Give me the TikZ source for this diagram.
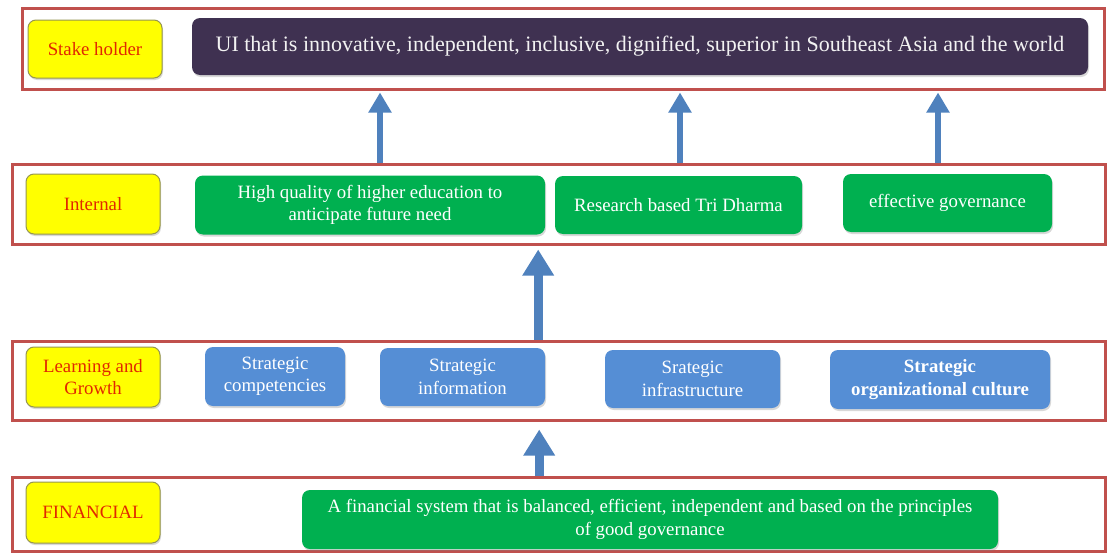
\documentclass[tikz,border=0pt]{standalone}
\usepackage{fontspec}
\setmainfont{Liberation Serif}
\usetikzlibrary{arrows.meta,shadows}
\definecolor{rowred}{RGB}{192,80,77}
\definecolor{tagyellow}{RGB}{255,255,0}
\definecolor{tagrim}{RGB}{150,150,80}
\definecolor{tagtext}{RGB}{225,40,0}
\definecolor{goalpurple}{RGB}{63,49,81}
\definecolor{boxgreen}{RGB}{0,176,80}
\definecolor{boxblue}{RGB}{85,142,213}
\definecolor{arrowblue}{RGB}{79,129,189}
\begin{document}
\begin{tikzpicture}[x=1pt,y=-1pt,
    every node/.style={inner sep=0pt,align=center,font=\fontsize{18.8}{22.5}\selectfont},
    rowbox/.style={draw=rowred,line width=3pt,fill=white,drop shadow={shadow xshift=1pt,shadow yshift=-2pt,opacity=0.2}},
    tagbox/.style={draw=tagrim,line width=1pt,fill=tagyellow,rounded corners=8pt,text=tagtext,minimum width=134pt,drop shadow={shadow xshift=1pt,shadow yshift=-2pt,opacity=0.3}},
    goalbox/.style={fill=goalpurple,rounded corners=8pt,text=white!95!black,drop shadow={shadow xshift=1pt,shadow yshift=-2pt,opacity=0.3}},
    greenbox/.style={fill=boxgreen,rounded corners=8pt,text=white,drop shadow={shadow xshift=1pt,shadow yshift=-2pt,opacity=0.3}},
    bluebox/.style={fill=boxblue,rounded corners=8pt,text=white,drop shadow={shadow xshift=1pt,shadow yshift=-2pt,opacity=0.3}},
    uparrow/.style={draw=arrowblue,line width=6pt,-{Triangle[length=20pt,width=22pt]}},
    bigarrow/.style={draw=arrowblue,line width=9pt,-{Triangle[length=26pt,width=30pt]}}]
  \useasboundingbox (0,0) rectangle (1109,554);
  \node[rowbox,minimum width=1082pt,minimum height=81pt] (rstake) at (563,48.5) {};
  \node[rowbox,minimum width=1093pt,minimum height=80pt] (rint) at (558.5,204) {};
  \node[rowbox,minimum width=1093pt,minimum height=79pt] (rlearn) at (558.5,380.5) {};
  \node[rowbox,minimum width=1093pt,minimum height=74pt] (rfin) at (558.5,514) {};
  \node[tagbox,minimum height=58pt] (pstake) at (95,49) {Stake holder};
  \node[tagbox,minimum height=60pt] (pint) at (93,204) {Internal};
  \node[tagbox,minimum height=60pt] (plearn) at (93,377) {Learning and\\Growth};
  \node[tagbox,minimum height=61pt] (pfin) at (93,512.5) {FINANCIAL};
  \node[goalbox,minimum width=896pt,minimum height=57pt,font=\fontsize{22}{26}\selectfont] (goal) at (640,46.5)
    {UI that is innovative, independent, inclusive, dignified, superior in Southeast Asia and the world};
  \node[greenbox,minimum width=350pt,minimum height=59pt] (hq) at (370,205) {High quality of higher education to\\anticipate future need};
  \node[greenbox,minimum width=247pt,minimum height=58pt] (tri) at (678.5,205) {Research based Tri Dharma};
  \node[greenbox,minimum width=209pt,minimum height=58pt] (gov) at (947.5,203) {effective governance};
  \node[bluebox,minimum width=140pt,minimum height=59pt] (comp) at (275,376.5) {Strategic\\competencies};
  \node[bluebox,minimum width=165pt,minimum height=58pt] (info) at (462.5,377) {Strategic\\information};
  \node[bluebox,minimum width=175pt,minimum height=58pt] (infra) at (692.5,379) {Srategic\\infrastructure};
  \node[bluebox,minimum width=220pt,minimum height=59pt,font=\fontsize{18.8}{22.5}\selectfont\bfseries] (cult) at (940,379.5) {Strategic\\organizational culture};
  \node[greenbox,minimum width=696pt,minimum height=59pt] (fsys) at (650,519.5)
    {A financial system that is balanced, efficient, independent and based on the principles\\of good governance};
  \draw[uparrow,shorten >=2pt] ([xshift=10pt]rint.north -| hq.north) -- ([xshift=10pt]rstake.south -| hq.north);
  \draw[uparrow,shorten >=2pt] ([xshift=1.5pt]rint.north -| tri.north) -- ([xshift=1.5pt]rstake.south -| tri.north);
  \draw[uparrow,shorten >=2pt] ([xshift=-9.5pt]rint.north -| gov.north) -- ([xshift=-9.5pt]rstake.south -| gov.north);
  \draw[bigarrow,shorten >=4pt] ([xshift=-7pt]rlearn.north -| info.east) -- ([xshift=-7pt]rint.south -| info.east);
  \draw[bigarrow,shorten >=8pt] ([xshift=-6pt]rfin.north -| info.east) -- ([xshift=-6pt]rlearn.south -| info.east);
\end{tikzpicture}
\end{document}
